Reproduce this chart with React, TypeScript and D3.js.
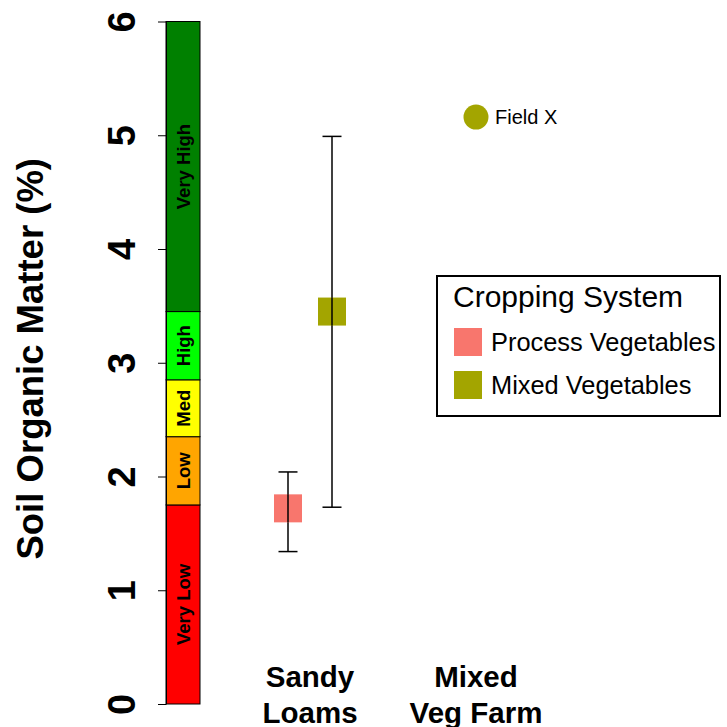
import React, { useEffect, useRef } from 'react';
import { select, scaleLinear, scaleOrdinal, scalePoint, axisLeft } from 'd3';

const categories = ['Sandy Loams', 'Mixed Veg Farm'];
const categoryLines = [['Sandy', 'Loams'], ['Mixed', 'Veg Farm']];
const systems = ['Process Vegetables', 'Mixed Vegetables'];
const systemColors = ['#F8766D', '#A3A500'];

// reference ranges for the coloured bar
const bandLabels = ['Very Low', 'Low', 'Med', 'High', 'Very High'];
const bandLow = [0, 1.75, 2.35, 2.85, 3.45];
const bandHigh = [1.75, 2.35, 2.85, 3.45, 6];
const bandColors = ['#FF0000', '#FFA500', '#FFFF00', '#00FF00', '#008000'];

// Sandy Loams means with ranges
const meanValues = [1.72, 3.45];
const minValues = [1.34, 1.73];
const maxValues = [2.04, 4.99];

// the farm point
const farmLabel = 'Field X';
const farmValue = 5.16;
const farmSystem = 'Mixed Vegetables';

const yTicks = [0, 1, 2, 3, 4, 5, 6];

const FONT = "'Liberation Sans', Arial, Helvetica, sans-serif";

const SomChart = () => {
  const svgRef = useRef(null);

  useEffect(() => {
    const svg = select(svgRef.current);
    svg.selectAll('*').remove();

    const y = scaleLinear().domain([0, 6]).range([704, 21.5]);
    const xCat = scaleOrdinal().domain(['ref', ...categories]).range([183, 310, 476]);
    const dodge = scalePoint().domain(systems).range([-22, 22]);
    const color = scaleOrdinal().domain(systems).range(systemColors);

    // coloured reference bar
    const bars = svg.append('g');
    bandLabels.forEach((lab, i) => {
      const y0 = y(bandLow[i]);
      const y1 = y(bandHigh[i]);
      bars.append('rect')
        .attr('x', xCat('ref') - 17)
        .attr('y', y1)
        .attr('width', 34)
        .attr('height', y0 - y1)
        .attr('fill', bandColors[i])
        .attr('stroke', 'black')
        .attr('stroke-width', 1);
      const cy = (y0 + y1) / 2;
      bars.append('text')
        .attr('transform', `translate(${xCat('ref') + 6.5},${cy}) rotate(-90)`)
        .attr('text-anchor', 'middle')
        .attr('font-family', FONT)
        .attr('font-weight', 'bold')
        .attr('font-size', 18.5)
        .text(lab);
    });

    // y axis
    const ax = svg.append('g')
      .attr('transform', 'translate(166,0)')
      .call(axisLeft(y).tickValues(yTicks).tickSize(8).tickSizeOuter(0).tickFormat((d) => String(d)));
    ax.select('.domain').attr('stroke', 'black');
    ax.selectAll('.tick line').attr('stroke', 'black');
    ax.selectAll('.tick text')
      .attr('x', null)
      .attr('dy', null)
      .attr('transform', 'translate(-31,0) rotate(-90)')
      .attr('text-anchor', 'middle')
      .attr('fill', 'black')
      .attr('font-family', FONT)
      .attr('font-weight', 'bold')
      .attr('font-size', 38);

    svg.append('text')
      .attr('transform', `translate(43,${(y(0) + y(6)) / 2 - 4}) rotate(-90)`)
      .attr('text-anchor', 'middle')
      .attr('font-family', FONT)
      .attr('font-weight', 'bold')
      .attr('font-size', 36.5)
      .text('Soil Organic Matter (%)');

    // error bars + means
    const g = svg.append('g');
    systems.forEach((s, i) => {
      const cx = xCat(categories[0]) + dodge(s);
      g.append('line')
        .attr('x1', cx).attr('x2', cx)
        .attr('y1', y(minValues[i])).attr('y2', y(maxValues[i]))
        .attr('stroke', 'black').attr('stroke-width', 1.5);
      [minValues[i], maxValues[i]].forEach((v) => {
        g.append('line')
          .attr('x1', cx - 9.5).attr('x2', cx + 9.5)
          .attr('y1', y(v)).attr('y2', y(v))
          .attr('stroke', 'black').attr('stroke-width', 1.5);
      });
      g.append('rect')
        .attr('x', cx - 14).attr('y', y(meanValues[i]) - 14)
        .attr('width', 28).attr('height', 28)
        .attr('fill', color(s));
      // line shows through the square in the source
      g.append('line')
        .attr('x1', cx).attr('x2', cx)
        .attr('y1', y(meanValues[i]) - 14).attr('y2', y(meanValues[i]) + 14)
        .attr('stroke', 'black').attr('stroke-width', 1.5);
    });

    // farm point
    const fx = xCat(categories[1]);
    svg.append('circle')
      .attr('cx', fx).attr('cy', y(farmValue)).attr('r', 12.5)
      .attr('fill', color(farmSystem));
    svg.append('text')
      .attr('x', fx + 19).attr('y', y(farmValue) + 7)
      .attr('font-family', FONT)
      .attr('font-size', 20)
      .text(farmLabel);

    // x category labels
    categories.forEach((c, i) => {
      const t = svg.append('text')
        .attr('text-anchor', 'middle')
        .attr('font-family', FONT)
        .attr('font-weight', 'bold')
        .attr('font-size', 29.5);
      categoryLines[i].forEach((ln, j) => {
        t.append('tspan').attr('x', xCat(c)).attr('y', 687 + j * 36).text(ln);
      });
    });

    // legend
    const lg = svg.append('g').attr('transform', 'translate(437,276)');
    lg.append('rect')
      .attr('width', 283).attr('height', 140)
      .attr('fill', 'white').attr('stroke', 'black').attr('stroke-width', 2);
    lg.append('text')
      .attr('x', 16).attr('y', 31)
      .attr('font-family', FONT).attr('font-size', 30)
      .text('Cropping System');
    systems.forEach((s, i) => {
      lg.append('rect')
        .attr('x', 17).attr('y', 52 + i * 43)
        .attr('width', 28).attr('height', 28)
        .attr('fill', color(s));
      lg.append('text')
        .attr('x', 54).attr('y', 75 + i * 43)
        .attr('font-family', FONT).attr('font-size', 25.4)
        .text(s);
    });
  }, []);

  return <svg ref={svgRef} width={727} height={727} style={{ position: 'absolute', left: 0, top: 0, background: 'white' }} />;
};

export default function App() {
  return <SomChart />;
}
